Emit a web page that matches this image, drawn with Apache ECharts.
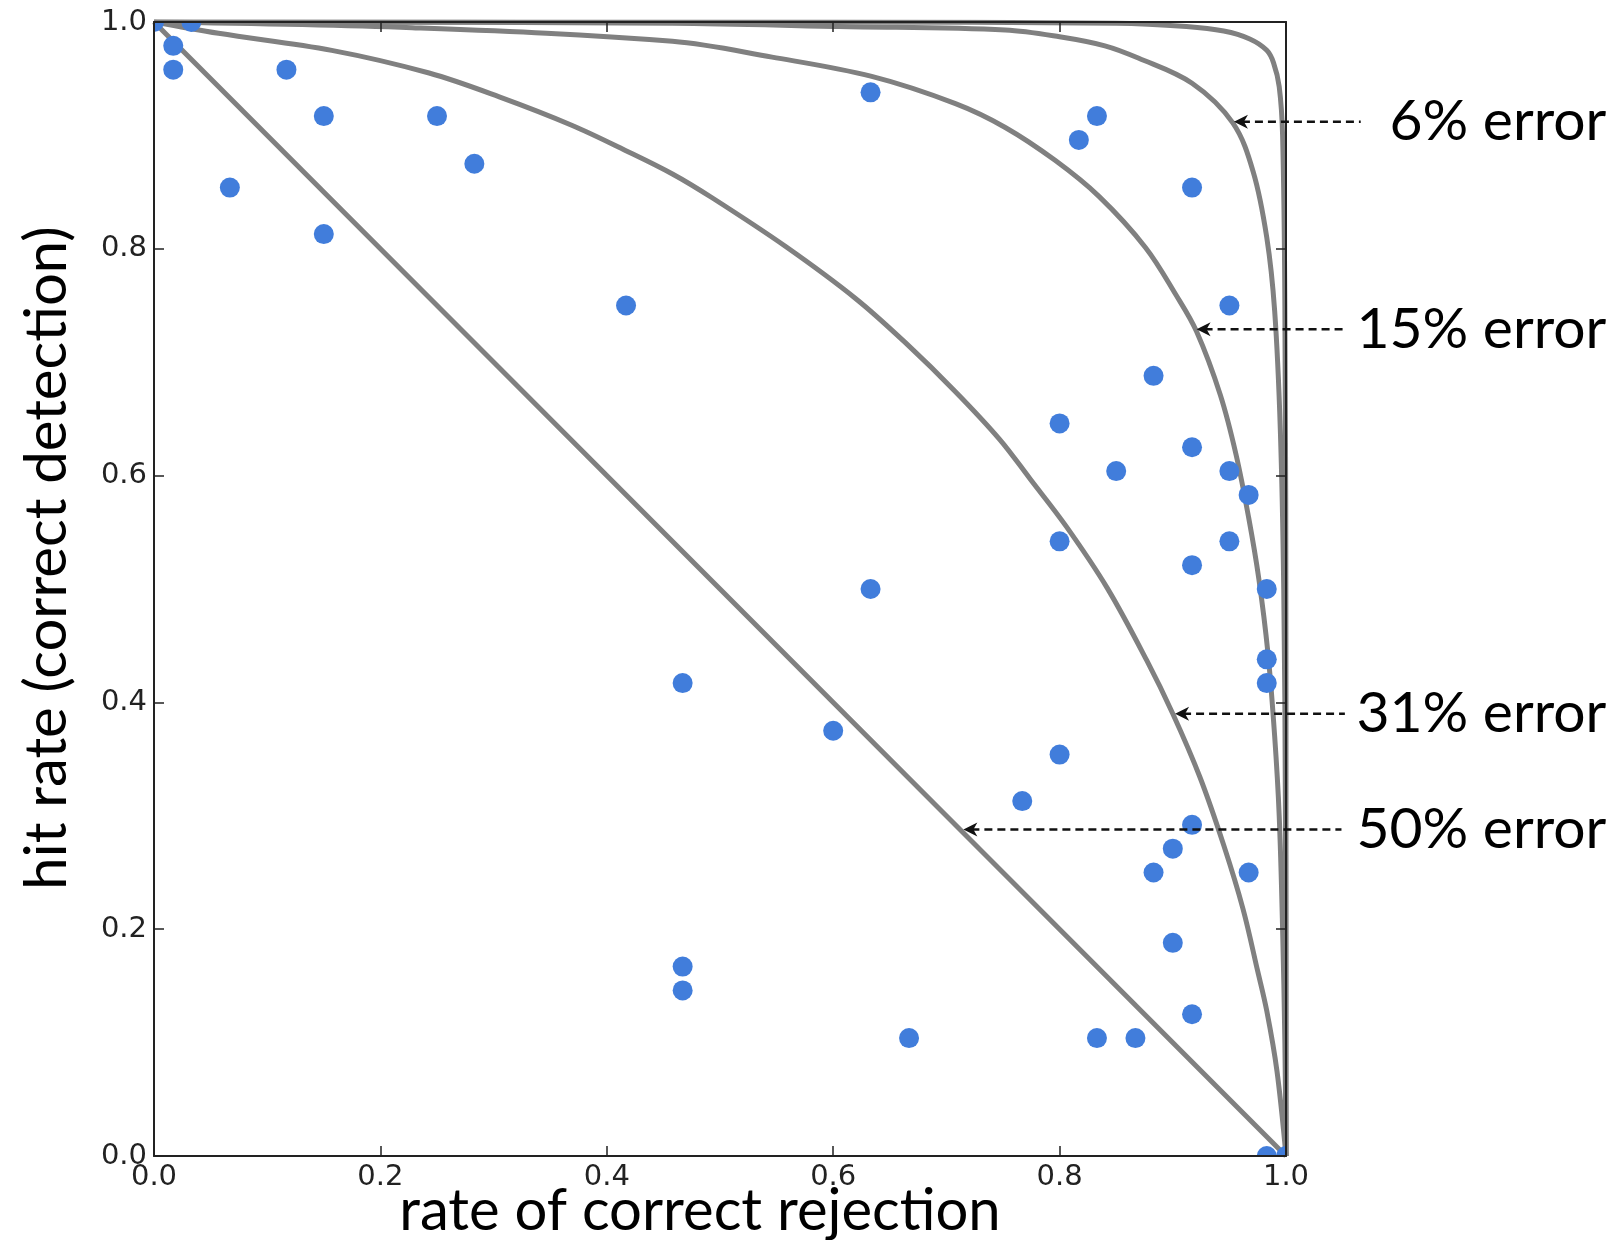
<!DOCTYPE html>
<html><head><meta charset="utf-8">
<script src="https://cdn.jsdelivr.net/npm/echarts@6/dist/echarts.min.js"></script>
<style>html,body{margin:0;padding:0;background:#fff}#c{width:1616px;height:1240px}</style>
</head><body><div id="c"></div>
<script>
// ---- data ----
const tickLabels = ['0.0', '0.2', '0.4', '0.6', '0.8', '1.0'];
const xName = 'rate of correct rejection';
const yName = 'hit rate (correct detection)';

// observed points: [rate of correct rejection, hit rate]
const points = [
  [0,1],[0.033,1],[0.017,0.979],[0.017,0.958],[0.117,0.958],[0.15,0.917],[0.25,0.917],
  [0.283,0.875],[0.067,0.854],[0.15,0.813],[0.417,0.75],[0.633,0.938],[0.833,0.917],
  [0.817,0.896],[0.917,0.854],[0.95,0.75],[0.883,0.688],[0.8,0.646],[0.917,0.625],
  [0.85,0.604],[0.95,0.604],[0.967,0.583],[0.8,0.542],[0.95,0.542],[0.917,0.521],
  [0.983,0.5],[0.633,0.5],[0.983,0.438],[0.983,0.417],[0.467,0.417],[0.6,0.375],
  [0.8,0.354],[0.767,0.313],[0.917,0.292],[0.9,0.271],[0.883,0.25],[0.967,0.25],
  [0.9,0.188],[0.467,0.167],[0.467,0.146],[0.917,0.125],[0.667,0.104],[0.833,0.104],
  [0.867,0.104],[0.983,0],[1,0]
];

// iso-error curves
const curve50 = [[0,1],[0.5,0.5],[1,0]];
const curve31 = [[0,1],[0.057,0.99],[0.157,0.975],[0.243,0.955],[0.305,0.934],[0.369,0.909],
  [0.416,0.887],[0.458,0.866],[0.493,0.845],[0.558,0.802],[0.62,0.756],[0.664,0.717],
  [0.708,0.674],[0.747,0.632],[0.774,0.597],[0.806,0.555],[0.842,0.501],[0.877,0.437],
  [0.9,0.39],[0.924,0.334],[0.945,0.274],[0.962,0.218],[0.975,0.163],[0.983,0.128],
  [0.992,0.075],[1,0]];
const curve15 = [[0,1],[0.228,0.995],[0.458,0.983],[0.546,0.969],[0.634,0.952],[0.708,0.928],
  [0.752,0.907],[0.796,0.878],[0.835,0.846],[0.876,0.801],[0.903,0.759],[0.921,0.727],
  [0.942,0.671],[0.956,0.618],[0.967,0.563],[0.976,0.509],[0.984,0.444],[0.99,0.37],
  [0.994,0.3],[0.997,0.2],[0.999,0.1],[1,0]];
const curve6 = [[0,1],[0.458,0.999],[0.605,0.996],[0.752,0.993],[0.8,0.987],[0.84,0.979],
  [0.87,0.968],[0.917,0.946],[0.953,0.911],[0.971,0.868],[0.983,0.81],[0.99,0.745],
  [0.995,0.64],[0.998,0.5],[0.9995,0.3],[1,0]];
const curveOuter = [[0,1],[0.6,1],[0.85,0.999],[0.912,0.996],[0.945,0.992],[0.968,0.985],
  [0.983,0.975],[0.989,0.964],[0.994,0.943],[0.997,0.9],[0.999,0.75],[1,0.4],[1,0]];

// annotations: label, arrow tip (data coords), dashed line end x
const annLabels = ['6% error', '15% error', '31% error', '50% error'];
const annTipX  = [0.954, 0.921, 0.902, 0.715];
const annY     = [0.912, 0.729, 0.390, 0.288];
const annEndX  = [1.066, 1.050, 1.052, 1.049];
const annTextX = 1.283;

// ---- chart ----
const chart = echarts.init(document.getElementById('c'), null, {renderer: 'canvas'});
const AX = '#222';
const gray = '#808080';
const dotColor = '#417ddb';

function mkX(pos, labels, named) {
  return {
    type: 'value', min: 0, max: 1, interval: 0.2, position: pos, z: 10,
    axisLine: {show: true, onZero: false, lineStyle: {color: AX, width: 2}},
    axisTick: {show: true, inside: true, length: 10, lineStyle: {color: AX, width: 1.5}},
    axisLabel: {show: labels, margin: 7, fontFamily: 'DejaVu Sans', fontSize: 29, color: '#222',
      formatter: v => tickLabels[Math.round(v * 5)]},
    splitLine: {show: false},
    name: named ? xName : '', nameLocation: 'middle', nameGap: 26, nameMoveOverlap: false,
    nameTextStyle: {fontFamily: 'Lato', fontSize: 58, color: '#000', padding: [0, 40, 0, 0]}
  };
}
function mkY(pos, labels, named) {
  return {
    type: 'value', min: 0, max: 1, interval: 0.2, position: pos, z: 10,
    axisLine: {show: true, onZero: false, lineStyle: {color: AX, width: 2}},
    axisTick: {show: true, inside: true, length: 10, lineStyle: {color: AX, width: 1.5}},
    axisLabel: {show: labels, margin: 7, fontFamily: 'DejaVu Sans', fontSize: 29, color: '#222',
      formatter: v => tickLabels[Math.round(v * 5)]},
    splitLine: {show: false},
    name: named ? yName : '', nameLocation: 'middle', nameGap: 78,
    nameTextStyle: {fontFamily: 'Lato', fontSize: 58, color: '#000', padding: [0, 0, 0, 62]}
  };
}

function curveSeries(data) {
  return {
    type: 'line', data: data, smooth: 0.35, showSymbol: false, symbol: 'none', clip: true, z: 2,
    lineStyle: {color: gray, width: 5}, silent: true, animation: false
  };
}

const option = {
  backgroundColor: '#fff',
  animation: false,
  grid: {left: 154, top: 22, width: 1132, height: 1134, containLabel: false, outerBoundsMode: 'none'},
  xAxis: [mkX('bottom', true, true), mkX('top', false, false)],
  yAxis: [mkY('left', true, true), mkY('right', false, false)],
  series: [
    curveSeries(curve50), curveSeries(curve31), curveSeries(curve15),
    curveSeries(curve6), curveSeries(curveOuter),
    {
      type: 'custom', data: points, clip: true, z: 3, animation: false,
      encode: {x: 0, y: 1},
      renderItem: (params, api) => {
        const p = api.coord([api.value(0), api.value(1)]);
        return {type: 'circle', shape: {cx: p[0], cy: p[1], r: 10}, style: {fill: dotColor}};
      }
    }
  ]
};
chart.setOption(option);

// annotation arrows and labels placed through the chart's own scales
const graphics = [];
annLabels.forEach((l, i) => {
  const tip = chart.convertToPixel({xAxisIndex: 0, yAxisIndex: 0}, [annTipX[i], annY[i]]);
  const end = chart.convertToPixel({xAxisIndex: 0, yAxisIndex: 0}, [annEndX[i], annY[i]]);
  const txt = chart.convertToPixel({xAxisIndex: 0, yAxisIndex: 0}, [annTextX, annY[i]]);
  graphics.push({
    type: 'line', z: 15, silent: true,
    shape: {x1: tip[0] + 8, y1: tip[1], x2: end[0], y2: end[1]},
    style: {stroke: '#111', lineWidth: 2.5, lineDash: [8, 5]}
  });
  graphics.push({
    type: 'polygon', z: 16, silent: true,
    shape: {points: [[tip[0], tip[1]], [tip[0] + 14, tip[1] - 7], [tip[0] + 10, tip[1]], [tip[0] + 14, tip[1] + 7]]},
    style: {fill: '#111'}
  });
  graphics.push({
    type: 'text', x: txt[0], y: txt[1], z: 20, silent: true,
    style: {text: l, fontFamily: 'Lato', fontSize: 57, fill: '#000', align: 'right', verticalAlign: 'middle'}
  });
});
chart.setOption({graphic: graphics});
</script>
</body></html>
